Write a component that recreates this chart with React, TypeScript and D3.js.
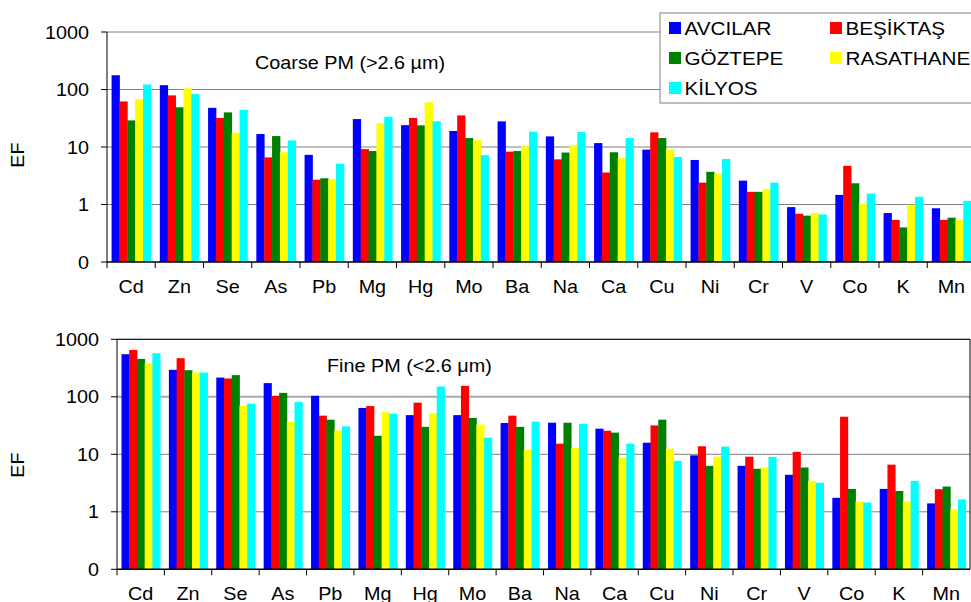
import React from 'react';
import * as d3 from 'd3';

const elements = ['Cd', 'Zn', 'Se', 'As', 'Pb', 'Mg', 'Hg', 'Mo', 'Ba', 'Na', 'Ca', 'Cu', 'Ni', 'Cr', 'V', 'Co', 'K', 'Mn'];
const stations = ['AVCILAR', 'BEŞİKTAŞ', 'GÖZTEPE', 'RASATHANE', 'KİLYOS'];
const colors = ['#0000ff', '#ff0000', '#008000', '#ffff00', '#00ffff'];

// coarse PM enrichment factors, one array per station
const coarseAvcilar = [177, 119, 48, 16.8, 7.3, 30.6, 24, 19, 27.9, 15.3, 11.7, 9.0, 5.95, 2.6, 0.9, 1.47, 0.71, 0.86];
const coarseBesiktas = [62, 79, 32, 6.6, 2.7, 9.2, 32, 35.4, 8.3, 6.1, 3.6, 18, 2.4, 1.66, 0.69, 4.7, 0.54, 0.54];
const coarseGoztepe = [29, 49, 40, 15.5, 2.86, 8.5, 23.8, 14.3, 8.5, 8.0, 8.1, 14.3, 3.7, 1.66, 0.64, 2.34, 0.4, 0.59];
const coarseRasathane = [68, 105, 17.7, 8.1, 2.75, 26, 60, 13.2, 10.3, 10.8, 6.4, 9.0, 3.45, 1.87, 0.71, 1.04, 0.99, 0.55];
const coarseKilyos = [122, 83, 44, 13, 5.1, 33.6, 28, 7.2, 18.5, 18.2, 14.3, 6.7, 6.2, 2.4, 0.67, 1.55, 1.36, 1.16];

// fine PM enrichment factors
const fineAvcilar = [550, 294, 216, 173, 104, 64, 48, 48, 35, 35.4, 27.9, 15.9, 9.6, 6.3, 4.4, 1.75, 2.5, 1.4];
const fineBesiktas = [653, 469, 208, 104, 47, 69, 79, 155, 47, 15.3, 25.7, 31.8, 13.8, 9.1, 11, 45, 6.6, 2.47];
const fineGoztepe = [456, 290, 238, 117, 40, 21, 30, 43, 30, 35.4, 23.8, 40, 6.3, 5.6, 5.9, 2.5, 2.3, 2.75];
const fineRasathane = [384, 264, 70, 37, 26, 54, 52, 33, 11.9, 13, 8.75, 12.5, 9.1, 5.9, 3.45, 1.51, 1.53, 1.1];
const fineKilyos = [572, 264, 76, 81, 30.6, 51, 151, 19.5, 37, 34, 15.3, 7.7, 13.6, 9.0, 3.2, 1.45, 3.45, 1.64];

const tickValues = [0.1, 1, 10, 100, 1000];
const tickLabels = ['0', '1', '10', '100', '1000'];

const font = '"Liberation Sans", Arial, sans-serif';

function T({x, y, anchor = 'start', rotate = 0, size = 18, children}: any) {
    return (
        <text transform={`translate(${x},${y}) rotate(${rotate}) scale(1.1,1)`}
              textAnchor={anchor} fontFamily={font} fontSize={size} fill="#000">
            {children}
        </text>
    );
}

function Panel({data, left, right, top, bottom, title, titleX, titleY, frame, labelY}: any) {
    const x0 = d3.scaleBand().domain(elements).range([left, right]);
    const bw = x0.bandwidth();
    const x1 = d3.scaleBand().domain(stations).range([bw * 0.095, bw * 0.91]);
    const y = d3.scaleLog().domain([0.1, 1000]).range([bottom, top]);

    return (
        <g>
            {tickValues.slice(1).map((t, i) => (
                <line key={'g' + i} x1={left} x2={right} y1={y(t)} y2={y(t)}
                      stroke={frame && t === 100 ? '#a8a8a8' : '#808080'}
                      strokeWidth={frame && t === 100 ? 2 : 1}/>
            ))}
            {data.map((vals: number[], s: number) => (
                <g key={s} fill={colors[s]}>
                    {vals.map((v, i) => (
                        <rect key={i} x={x0(elements[i])! + x1(stations[s])!} y={y(v)}
                              width={x1.bandwidth() + 0.4} height={bottom - y(v)}/>
                    ))}
                </g>
            ))}
            {frame && <path d={`M${left},${top}H${right}V${bottom}`} fill="none" stroke="#000"/>}
            <line x1={left} x2={left} y1={top} y2={bottom} stroke="#000"/>
            <line x1={left} x2={right} y1={bottom} y2={bottom} stroke="#000" strokeWidth={1.5}/>
            {tickValues.map((t, i) => (
                <g key={'t' + i}>
                    <line x1={left - 6} x2={left} y1={y(t)} y2={y(t)} stroke="#000"/>
                    <T x={left - 18} y={y(t) + 6.5} anchor="end">{tickLabels[i]}</T>
                </g>
            ))}
            {elements.map((e, i) => (
                <g key={'c' + i}>
                    <line x1={x0(e)!} x2={x0(e)!} y1={bottom} y2={bottom + 6} stroke="#000"/>
                    <T x={x0(e)! + bw / 2} y={bottom + 30.5} anchor="middle">{e}</T>
                </g>
            ))}
            <T x={titleX} y={titleY}>{title}</T>
            <T x={24} y={labelY} anchor="middle" rotate={-90}>EF</T>
        </g>
    );
}

export default function App() {
    const coarse = [coarseAvcilar, coarseBesiktas, coarseGoztepe, coarseRasathane, coarseKilyos];
    const fine = [fineAvcilar, fineBesiktas, fineGoztepe, fineRasathane, fineKilyos];
    const legendPos = [[669, 28], [830, 28], [669, 58], [830, 58], [669, 88]];

    return (
        <svg width={971} height={602} style={{position: 'absolute', left: 0, top: 0, background: '#fff'}}>
            <Panel data={coarse} left={107} right={975.5} top={32} bottom={262}
                   title="Coarse PM (>2.6 µm)" titleX={255} titleY={69} frame={false} labelY={155}/>
            <Panel data={fine} left={117} right={970} top={339.3} bottom={569.3}
                   title="Fine PM (<2.6 μm)" titleX={327} titleY={372} frame={true} labelY={465}/>
            <rect x={660} y={13} width={330} height={90} fill="#fff" stroke="#808080"/>
            {stations.map((s, i) => (
                <g key={s}>
                    <rect x={legendPos[i][0]} y={legendPos[i][1] - 6} width={12} height={12} fill={colors[i]}/>
                    <T x={legendPos[i][0] + 15.5} y={legendPos[i][1] + 7} size={18.8}>{s}</T>
                </g>
            ))}
        </svg>
    );
}
